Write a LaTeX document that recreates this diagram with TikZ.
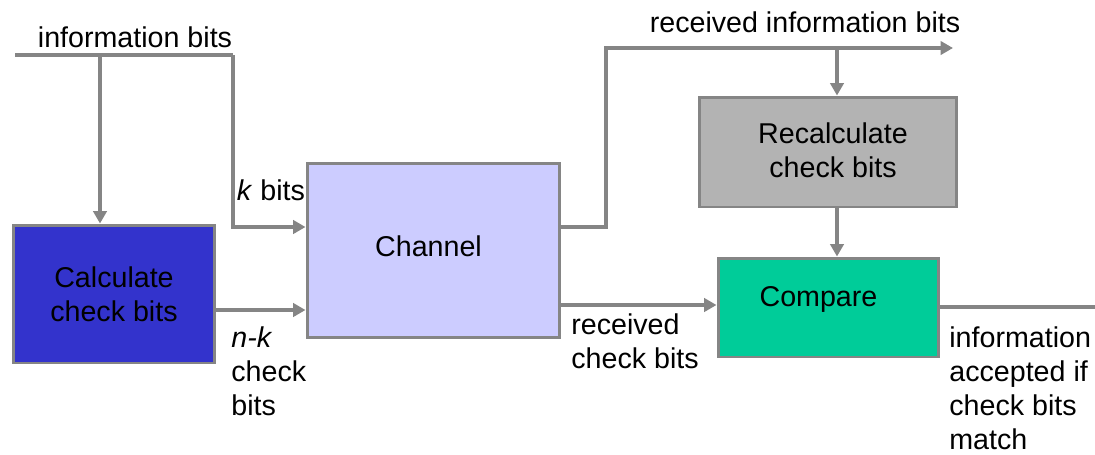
\documentclass[tikz,border=0pt]{standalone}
\usepackage{fontspec}
\setmainfont{Liberation Sans}
\usetikzlibrary{arrows.meta}
\definecolor{linegray}{HTML}{858585}
\definecolor{calcblue}{HTML}{3333CC}
\definecolor{chanlilac}{HTML}{CCCCFF}
\definecolor{recalcgray}{HTML}{B3B3B3}
\definecolor{cmpgreen}{HTML}{00CC99}

\begin{document}
\begin{tikzpicture}[x=0.02cm,y=-0.02cm,
  font=\fontsize{16.3}{19.4}\selectfont,
  block/.style={draw=linegray,line width=1.7pt,inner sep=0pt,align=center},
  wire/.style={draw=linegray,line width=2.3pt,line join=miter},
  flow/.style={wire,-{Triangle[length=7pt,width=7.5pt]}},
  note/.style={align=left,anchor=west,inner sep=0pt}]
\useasboundingbox (0,0) rectangle (1095,454);

\node[block,fill=calcblue,minimum width=4.04cm,minimum height=2.76cm] (calc) at (114,294) {Calculate\\check bits};
\node[block,fill=chanlilac,minimum width=5.06cm,minimum height=3.5cm,
  label={[xshift=-0.1cm,yshift=0.08cm]center:Channel}] (chan) at (433.5,250.5) {};
\node[block,fill=recalcgray,minimum width=5.16cm,minimum height=2.2cm,
  label={[xshift=0.1cm,yshift=0.04cm,align=center]center:Recalculate\\check bits}] (recalc) at (828,152) {};
\node[block,fill=cmpgreen,minimum width=4.42cm,minimum height=1.98cm,
  label={[xshift=-0.2cm,yshift=0.17cm]center:Compare}] (cmp) at (828.5,307.5) {};

\node (infolbl) at (135,37) {information bits};
\node (rxinfolbl) at (805,22) {received information bits};
\node (kbits) at (271,190) {\textit{k} bits};
\node[note] (nkbits) at (231,371) {\textit{n-k}\\check\\bits};
\node[note] (rxcheck) at (571,341) {received\\check bits};
\node[note] (accept) at (949,388) {information\\accepted if\\check bits\\match};

\coordinate (inL) at (15,55);
\coordinate (inR) at (233,55);
\coordinate (tap) at (100,55);
\coordinate (kin) at (233,227);
\coordinate (nkout) at (215,310);
\coordinate (rxup) at (606,227);
\coordinate (rxtop) at (606,48);
\coordinate (rxend) at (953,48);
\coordinate (rtap) at (837,48);
\coordinate (ckout) at (560,305);
\coordinate (outend) at (1095,307);

\draw[wire] (inL) -- (inR);
\draw[flow] (tap) -- (tap |- calc.north);
\draw[flow] (inR) -- (kin) -- (kin -| chan.west);
\draw[flow] (nkout) -- (nkout -| chan.west);
\draw[flow] (rxup -| chan.east) -- (rxup) -- (rxtop) -- (rxend);
\draw[flow] (rtap) -- (rtap |- recalc.north);
\draw[flow] (rtap |- recalc.south) -- (rtap |- cmp.north);
\draw[flow] (ckout) -- (ckout -| cmp.west);
\draw[wire] (outend -| cmp.east) -- (outend);
\end{tikzpicture}
\end{document}
